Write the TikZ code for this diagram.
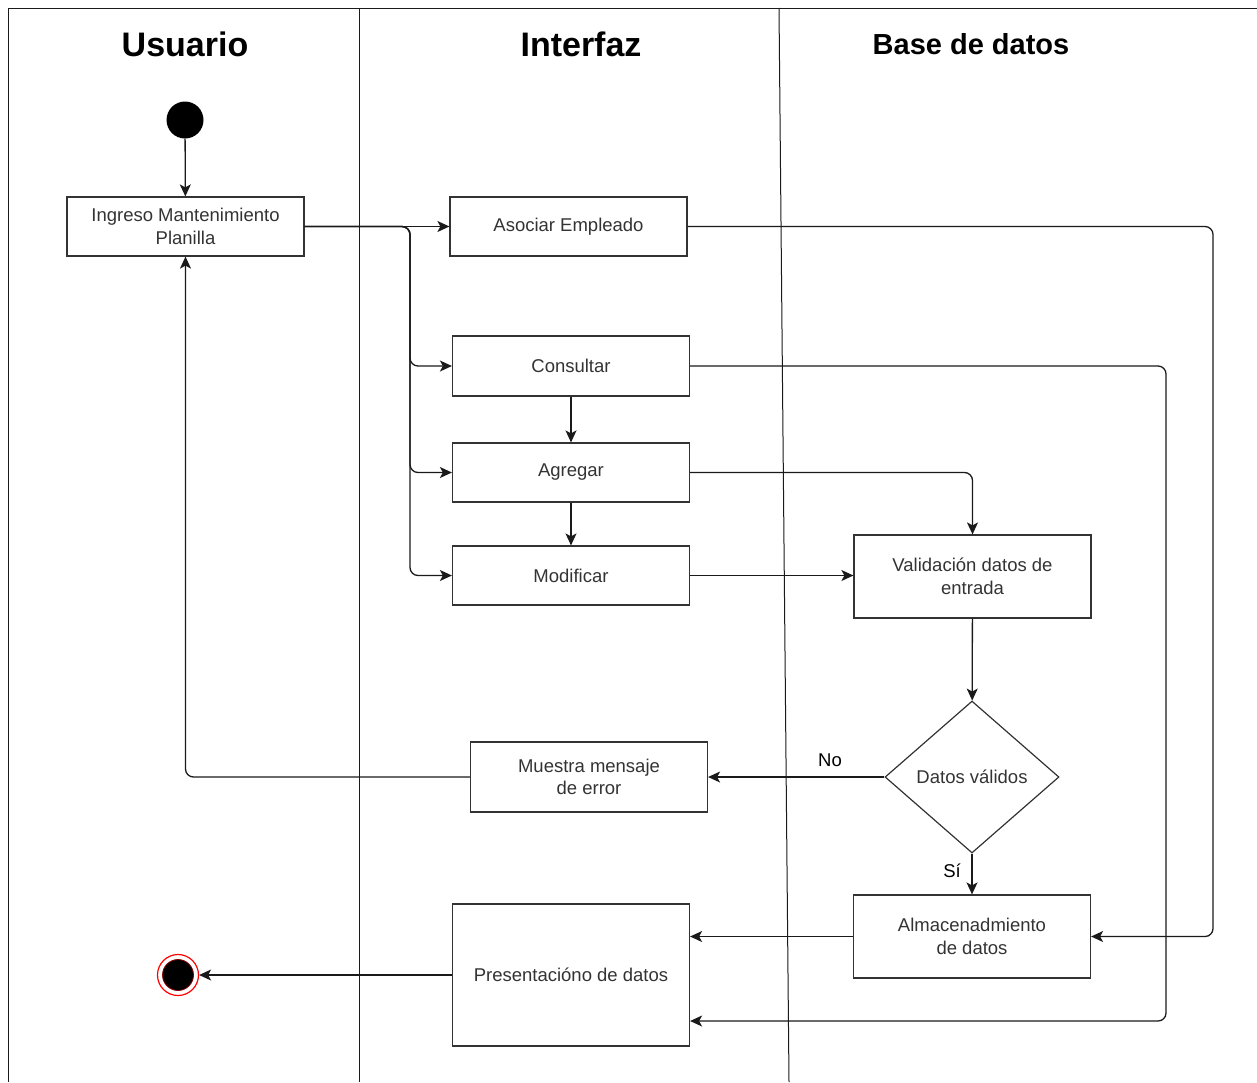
\documentclass[tikz,border=0pt]{standalone}
\usepackage{fontspec}
\setmainfont{Liberation Sans}
\usetikzlibrary{arrows.meta,shapes.geometric,calc}
\definecolor{ink}{HTML}{333333}
\definecolor{edge}{HTML}{1A1A1A}
\begin{document}
\begin{tikzpicture}[x=1pt,y=-1pt,
  every node/.style={font=\fontsize{18.5}{22.5}\selectfont, text=ink},
  act/.style={draw=ink, line width=1.2pt, rectangle, minimum width=237pt, minimum height=59pt, inner sep=2pt, align=center},
  decide/.style={draw=ink, line width=1.2pt, diamond, minimum width=174pt, minimum height=152pt, inner sep=0pt, align=center},
  lane/.style={draw=edge, line width=1pt},
  title/.style={font=\bfseries\fontsize{34}{40}\selectfont, text=black},
  flow/.style={draw=edge, line width=1.3pt, rounded corners=8pt, -{Stealth[length=12pt,width=11pt,inset=3pt]}},
  guard/.style={font=\fontsize{18.5}{22}\selectfont, text=black}]
\useasboundingbox (0,0) rectangle (1257,1082);

% swimlane frame and lane dividers
\draw[lane] (1257,8) -- (8,8) -- (8,1082);
\draw[lane] (359,8) -- (359,1082);
\draw[lane] (779,8) -- (789,1082);

% lane titles
\node[title] (tUsu) at (185,44) {Usuario};
\node[title] (tInt) at (581,44) {Interfaz};
\node[title, font=\bfseries\fontsize{29}{34}\selectfont] (tBd) at (971,44) {Base de datos};

% activities
\node[circle, fill=black, minimum size=37pt, inner sep=0pt] (start) at (185,120) {};
\node[act] (ing) at (185.5,226.5) {Ingreso Mantenimiento\\Planilla};
\node[act] (aso) at (568.5,226.5) {Asociar Empleado};
\node[act, minimum height=60pt] (cons) at (571,366) {Consultar};
\node[act] (agr) at (571,472.5) {Agregar};
\node[act] (mod) at (571,575.5) {Modificar};
\node[act, minimum height=83pt] (val) at (972.5,576.5) {Validación datos de\\entrada};
\node[decide] (dec) at (972,777) {Datos válidos};
\node[act, minimum height=70pt] (mue) at (589,777) {Muestra mensaje\\de error};
\node[act, minimum height=83pt] (alm) at (972,936.5) {Almacenadmiento\\de datos};
\node[act, minimum height=142pt] (pres) at (571,975) {Presentacióno de datos};
\node[circle, draw=red, line width=1.2pt, fill=white, minimum size=41pt, inner sep=0pt] (fin) at (178,975) {};
\fill[black, draw=red!55!black, line width=0.8pt] (fin.center) circle (15.5pt);

% branch points and routing corners
\coordinate (split) at (410,226.5);
\coordinate (rA) at (1213,226.5);
\coordinate (rC) at (1166,366);

% connectors
\draw[flow] (start) -- (ing);
\draw[flow] (ing.east) -- (aso.west);
\draw[flow] (ing.east) -- (split) |- (cons.west);
\draw[flow] (ing.east) -- (split) |- (agr.west);
\draw[flow] (ing.east) -- (split) |- (mod.west);
\draw[flow] (aso.east) -- (rA) |- (alm.east);
\draw[flow] (cons.east) -- (rC) |- ([yshift=-46pt]pres.east);
\draw[flow] (cons) -- (agr);
\draw[flow] (agr) -- (mod);
\draw[flow] (agr.east) -| (val.north);
\draw[flow] (mod.east) -- (val.west |- mod.east);
\draw[flow] (val) -- (dec);
\draw[flow] (dec.west) -- (mue.east);
\draw[flow] (dec) -- (alm);
\draw[flow] (alm.west) -- (alm.west -| pres.east);
\draw[flow] (pres.west) -- (fin);
\draw[flow] (mue.west) -| (ing.south);

% guard labels
\node[guard] (gNo) at (830,760) {No};
\node[guard] (gSi) at (952,871) {Sí};
\end{tikzpicture}
\end{document}
